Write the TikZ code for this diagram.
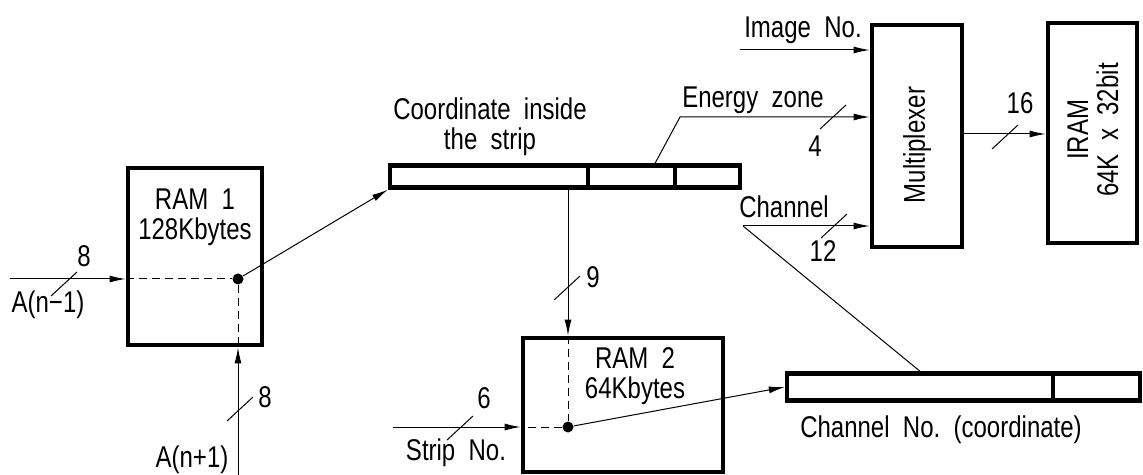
\documentclass[tikz,border=0pt]{standalone}
\usepackage{fontspec}
\setmainfont{Liberation Sans}[FakeStretch=0.8]
\usetikzlibrary{arrows.meta,calc}

\tikzset{
  boxsize/.style 2 args={minimum width=#1*0.5pt, minimum height=#2*0.5pt},
  box/.style={draw, line width=2.4pt, inner sep=0pt},
  field/.style={draw, line width=2.2pt, inner sep=0pt},
  dot/.style={circle, fill, inner sep=0pt, minimum size=5.5pt},
  bus/.style={line width=0.5pt, -{Latex[length=8pt,width=3.5pt]}},
  guide/.style={line width=0.5pt},
  hint/.style={line width=0.5pt, dashed, dash pattern=on 4pt off 2.5pt},
  txt/.style={font=\fontsize{15}{15}\selectfont, inner sep=0pt}
}

\begin{document}
\begin{tikzpicture}[x=0.5pt, y=-0.5pt]
\useasboundingbox (0,0) rectangle (1143,475);

% ---- memories and blocks
\node[box, boxsize={134}{177}] (ram1) at (195,256.5) {};
\node[txt, align=center] at (195,217) {RAM\ \ 1\\128Kbytes};
\node[dot] (d1) at (238,279) {};

\node[box, boxsize={200}{134}] (ram2) at (623,405) {};
\node[txt, align=center] at (635,376) {RAM\ \ 2\\64Kbytes};
\node[dot] (d2) at (568,427) {};

\node[box, boxsize={90}{222}] (mux) at (917,136) {};
\node[txt, rotate=90] at (917,145) {Multiplexer};
\node[box, boxsize={89}{220}] (iram) at (1092.5,133) {};
\node[txt, rotate=90, align=center] at (1093,130) {IRAM\\64K\ \ x\ \ 32bit};

% ---- address words
\node[field, boxsize={198}{22}] (s1a) at (489,176.5) {};
\node[field, boxsize={87}{22}]  (s1b) at (631.5,176.5) {};
\node[field, boxsize={65}{22}]  (s1c) at (707.5,176.5) {};
\node[txt, align=center] at (490,127) {Coordinate\ \ inside\\the\ \ strip};

\node[field, boxsize={266}{27}] (s2a) at (920,387) {};
\node[field, boxsize={87}{27}]  (s2b) at (1096.5,387) {};
\node[txt] at (941,430) {Channel\ \ No.\ \ (coordinate)};

% ---- inputs of RAM 1
\coordinate (a1) at (10,279);
\coordinate (a2) at (238,475);
\draw[bus] (a1) -- (a1 -| ram1.west);
\draw[bus] (a2) -- (a2 |- ram1.south);
\draw[hint] (a1 -| ram1.west) -- (d1) -- (d1 |- ram1.south);
\node[txt] at (48,305) {A(n−1)};
\node[txt] at (192,460) {A(n+1)};
\draw[bus] (d1) -- (s1a.south west);

% ---- RAM 2
\coordinate (sn) at (393,427);
\draw[bus] (sn) -- (sn -| ram2.west);
\draw[bus] (s1a.south -| d2) -- (d2 |- ram2.north);
\draw[hint] (d2 |- ram2.north) -- (d2) -- (d2 -| ram2.west);
\node[txt] at (456,453) {Strip\ \ No.};
\draw[bus] (d2) -- (s2a.west);

% ---- multiplexer inputs
\coordinate (im) at (740,50);
\coordinate (ez) at (680,117);
\coordinate (ch) at (743,226);
\draw[bus] (im) -- (im -| mux.west);
\draw[bus] ($(s1b.north)+(23.5,0)$) -- (ez) -- (ez -| mux.west);
\draw[bus] (ch) -- (ch -| mux.west);
\draw[guide] (ch) -- (s2a.north);
\node[txt] at (803,30) {Image\ \ No.};
\node[txt] at (753,100) {Energy\ \ zone};
\node[txt] at (784,207) {Channel};
\draw[bus] (mux.east |- 0,134) -- (iram.west |- 0,134);

% ---- bus widths
\foreach \sx/\sy/\w/\lx/\ly in {64/284/8/84/256, 240/409/8/265/397,
  567/288/9/593/277, 460/428/6/484/398, 833/117/4/815/146,
  834/226/12/823/251, 1005/137/16/1020/103}{
  \draw[guide] (\sx-13,\sy+12) -- (\sx+13,\sy-12);
  \node[txt] at (\lx,\ly) {\w};
}

\end{tikzpicture}
\end{document}
